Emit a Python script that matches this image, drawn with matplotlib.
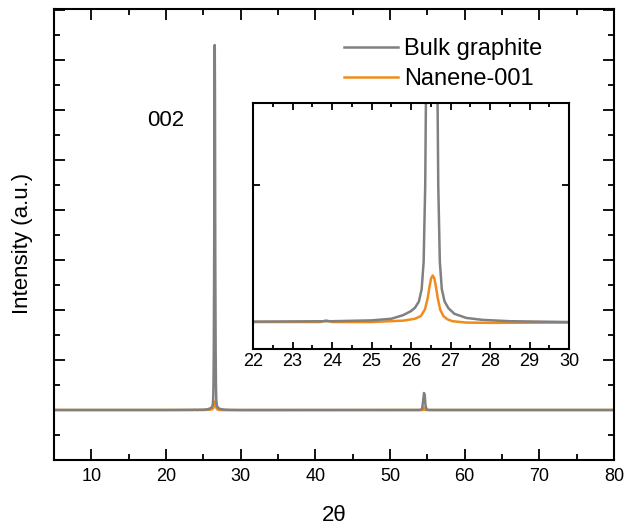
import numpy as np
import matplotlib.pyplot as plt

plt.rcParams['font.family'] = ['Liberation Sans', 'DejaVu Sans']

# 2theta / intensity (baseline = 0, one major y tick = 1)
bulk_2theta = [5.0, 20.0, 24.0, 25.0, 25.5, 25.8, 26.0, 26.1, 26.2, 26.27,
               26.32, 26.36, 26.4, 26.45, 26.5, 26.53, 26.56, 26.6, 26.65,
               26.69, 26.73, 26.78, 26.85, 26.95, 27.1, 27.4, 27.8, 28.5,
               30.0, 54.0, 54.3, 54.45, 54.55, 54.65, 54.75, 54.9, 55.2, 80.0]
bulk_int = [0.0, 0.0, 0.003, 0.006, 0.012, 0.025, 0.04, 0.052, 0.075, 0.12,
            0.22, 0.5, 1.2, 3.0, 6.2, 7.3, 6.2, 3.0, 1.2,
            0.5, 0.22, 0.12, 0.075, 0.05, 0.03, 0.015, 0.008, 0.003,
            0.0, 0.0, 0.02, 0.2, 0.34, 0.3, 0.1, 0.01, 0.0, 0.0]

nanene_2theta = [5.0, 23.7, 23.85, 24.0, 25.0, 25.8, 26.1, 26.25, 26.35, 26.42,
                 26.47, 26.51, 26.55, 26.59, 26.63, 26.68, 26.74, 26.82, 26.92,
                 27.05, 27.4, 28.0, 30.0, 54.4, 54.55, 54.7, 80.0]
nanene_int = [0.0, 0.0, 0.006, 0.0, 0.0, 0.005, 0.012, 0.022, 0.045, 0.085,
              0.13, 0.16, 0.17, 0.16, 0.13, 0.085, 0.045, 0.022, 0.01,
              0.003, -0.002, -0.003, -0.002, 0.0, 0.05, 0.0, 0.0]

gray = '#808080'
orange = '#F08C1E'


def style_axis(ax, major, minor):
    ax.tick_params(which='both', direction='in', top=True, right=True, width=1.3)
    ax.tick_params(which='major', length=major)
    ax.tick_params(which='minor', length=minor)
    for s in ax.spines.values():
        s.set_linewidth(1.5)


fig = plt.figure(figsize=(6.41, 5.31), dpi=100)
ax = fig.add_axes([54 / 641, 1 - 460 / 531, 560 / 641, 451 / 531])

ax.plot(bulk_2theta, bulk_int, color=gray, lw=1.8, label='Bulk graphite', zorder=2)
ax.plot(nanene_2theta, nanene_int, color=orange, lw=1.8, label='Nanene-001', zorder=1)
ax.set_xticks(np.arange(10, 81, 10))
ax.set_xticks(np.arange(5, 81, 5), minor=True)
ax.set_yticks(np.arange(-1, 9, 1))
ax.set_yticks(np.arange(-1.0, 8.1, 0.5), minor=True)
ax.set_yticklabels([])
# limits after the ticks so set_yticks cannot widen them
ax.set_xlim(5, 80)
ax.set_ylim(-1.0, 8.02)
ax.tick_params(axis='x', labelsize=13, pad=6)
style_axis(ax, 8, 4)
ax.set_xlabel('2θ', fontsize=16, labelpad=14)
ax.set_ylabel('Intensity (a.u.)', fontsize=16)
ax.yaxis.set_label_coords(-0.0375, 0.48)
ax.text(19.9, 5.8, '002', fontsize=16, ha='center', va='center')

ax.legend(loc='upper left', bbox_to_anchor=(0.518, 0.935), frameon=False,
          borderaxespad=0, borderpad=0,
          fontsize=17, handlelength=2.3, handletextpad=0.25, labelspacing=0.32)

# inset zoom on the 002 peak
ins = fig.add_axes([253 / 641, 1 - 349 / 531, 316 / 641, 246 / 531])
ins.plot(bulk_2theta, bulk_int, color=gray, lw=1.8, zorder=2)
ins.plot(nanene_2theta, nanene_int, color=orange, lw=1.8, zorder=1)
ins.set_xticks(np.arange(22, 31, 1))
ins.set_xticks(np.arange(22, 30.1, 0.5), minor=True)
ins.set_yticks([0.5])
ins.set_yticklabels([])
ins.set_xlim(22, 30)
ins.set_ylim(-0.0985, 0.8)
ins.tick_params(axis='x', labelsize=13, pad=3)
style_axis(ins, 5, 3)

fig.savefig('out.png', dpi=100)
